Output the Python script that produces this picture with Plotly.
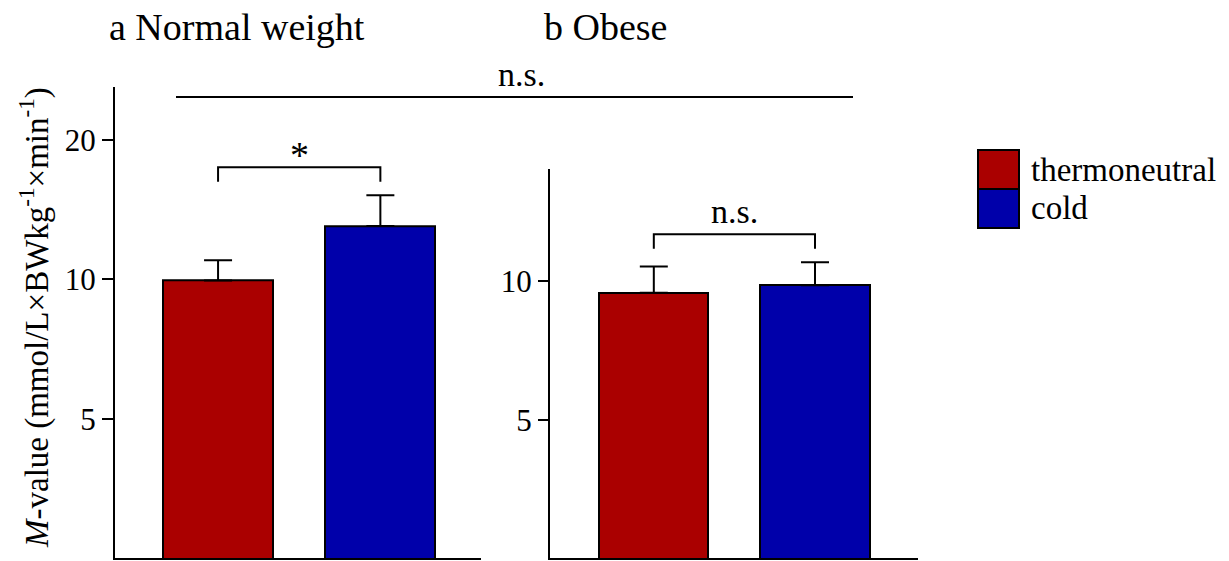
import numpy as np
import plotly.graph_objects as go

# ---------------- data ----------------
panel_titles = ["a Normal weight", "b Obese"]
conditions = ["thermoneutral", "cold"]
bar_colors = ["#AA0000", "#0000AA"]
normal_mean = [9.94, 13.03]
normal_err = [1.06, 2.16]
obese_mean = [9.43, 9.79]
obese_err = [1.31, 1.18]
ticks_left = [5, 10, 20]
ticks_right = [5, 10]
sig_within = ["*", "n.s."]
sig_between = "n.s."
y_title = "<i>M</i>-value (mmol/L×BWkg<sup>-1</sup>×min<sup>-1</sup>)"

# ---------------- layout helpers ----------------
W, H = 1229, 561
FONT = "Liberation Serif, Times New Roman, serif"


def fx(px):
    return px / W


def fy(py):
    return 1 - py / H


xpos = [0, 1]
fig = go.Figure()

panels = [
    dict(mean=normal_mean, err=normal_err, xa="x", ya="y"),
    dict(mean=obese_mean, err=obese_err, xa="x2", ya="y2"),
]

for p in panels:
    fig.add_trace(go.Bar(
        x=xpos, y=p["mean"], width=0.678,
        marker=dict(color=bar_colors, line=dict(color="black", width=2)),
        error_y=dict(type="data", symmetric=False, array=p["err"],
                     arrayminus=[0, 0], color="black", thickness=2, width=14),
        xaxis=p["xa"], yaxis=p["ya"], showlegend=False, hoverinfo="skip",
    ))

# significance brackets inside each panel
for p, lab in zip(panels, sig_within):
    top = max(m + e for m, e in zip(p["mean"], p["err"]))
    yb = top * 1.15
    yt = yb / 1.075
    fig.add_trace(go.Scatter(
        x=[xpos[0], xpos[0], xpos[1], xpos[1]], y=[yt, yb, yb, yt],
        mode="lines", line=dict(color="black", width=2),
        xaxis=p["xa"], yaxis=p["ya"], showlegend=False, hoverinfo="skip",
    ))
    fig.add_annotation(
        x=0.5, y=np.log10(yb), xref=p["xa"], yref=p["ya"],
        text=lab, showarrow=False, yanchor="bottom",
        yshift=(-11 if lab == "*" else 2),
        font=dict(family=FONT, size=(38 if lab == "*" else 34), color="black"),
    )

axis_common = dict(showline=True, linecolor="black", linewidth=2,
                   showgrid=False, zeroline=False)

fig.update_layout(
    width=W, height=H,
    margin=dict(l=0, r=0, t=0, b=0),
    paper_bgcolor="white", plot_bgcolor="white",
    font=dict(family=FONT, color="black"),
    bargap=0,
    xaxis=dict(domain=[fx(115), fx(481)], range=[-0.635, 1.62],
               showticklabels=False, ticks="", **axis_common),
    xaxis2=dict(domain=[fx(550), fx(918)], range=[-0.644, 1.639],
                showticklabels=False, ticks="", anchor="y2", **axis_common),
    yaxis=dict(type="log", domain=[fy(558), fy(87.2)],
               range=[np.log10(2.5), np.log10(26)],
               tickvals=ticks_left, ticktext=[str(v) for v in ticks_left],
               ticks="outside", ticklen=11, tickwidth=2, tickcolor="black",
               tickfont=dict(family=FONT, size=31, color="black"),
               anchor="x", **axis_common),
    yaxis2=dict(type="log", domain=[fy(558), fy(168.9)],
                range=[np.log10(2.52), np.log10(17.46)],
                tickvals=ticks_right, ticktext=[str(v) for v in ticks_right],
                ticks="outside", ticklen=10, tickwidth=2, tickcolor="black",
                tickfont=dict(family=FONT, size=31, color="black"),
                anchor="x2", **axis_common),
)

# overall comparison line across panels
fig.add_shape(type="line", xref="paper", yref="paper",
              x0=fx(176), x1=fx(853), y0=fy(97), y1=fy(97),
              line=dict(color="black", width=2))
fig.add_annotation(x=fx(521), y=fy(97), xref="paper", yref="paper",
                   text=sig_between, showarrow=False, yanchor="bottom", yshift=2,
                   font=dict(family=FONT, size=34, color="black"))

# panel titles
fig.add_annotation(x=fx(107), y=fy(4), xref="paper", yref="paper",
                   text=panel_titles[0], showarrow=False, xanchor="left", yanchor="top",
                   font=dict(family=FONT, size=38, color="black"))
fig.add_annotation(x=fx(541.5), y=fy(4), xref="paper", yref="paper",
                   text=panel_titles[1], showarrow=False, xanchor="left", yanchor="top",
                   font=dict(family=FONT, size=38, color="black"))

# y-axis title
fig.add_annotation(x=fx(34), y=fy(318), xref="paper", yref="paper",
                   text=y_title, textangle=-90, showarrow=False,
                   xanchor="center", yanchor="middle",
                   font=dict(family=FONT, size=33, color="black"))

# manual legend
box_top = 150
box_h = 39
for i, (name, col) in enumerate(zip(conditions, bar_colors)):
    y0 = box_top + i * box_h
    fig.add_shape(type="rect", xref="paper", yref="paper",
                  x0=fx(978), x1=fx(1019), y0=fy(y0), y1=fy(y0 + box_h),
                  fillcolor=col, line=dict(color="black", width=2))
    fig.add_annotation(x=fx(1029), y=fy(y0 + box_h / 2), xref="paper", yref="paper",
                       text=name, showarrow=False, xanchor="left", yanchor="middle",
                       font=dict(family=FONT, size=33, color="black"))

fig.write_html("out.html")
